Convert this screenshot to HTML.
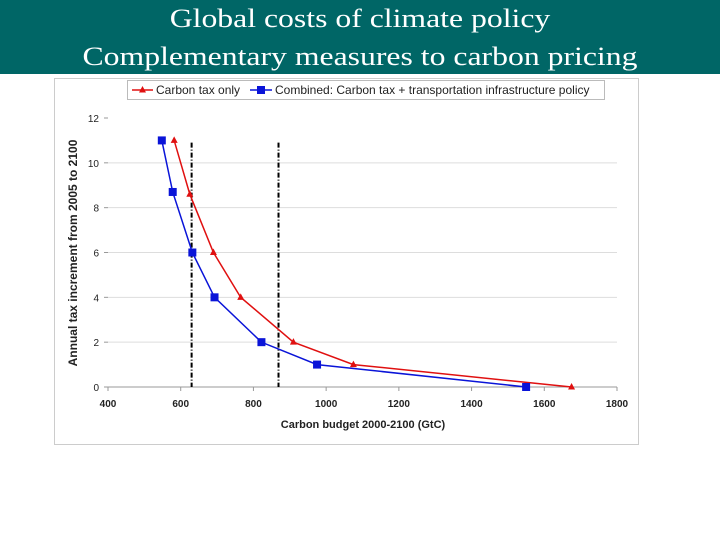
<!DOCTYPE html>
<html><head><meta charset="utf-8"><style>
body{margin:0;width:720px;height:540px;background:#fff;overflow:hidden;position:relative}
#title{position:absolute;left:0;top:0;width:720px;height:74px;background:#006666;color:#fff;font-family:"Liberation Serif",serif;font-size:26px;line-height:38px;text-align:center}
#title div{transform:scaleX(1.22);transform-origin:360px 0}
svg{position:absolute;left:0;top:0}
</style></head><body>
<div id="title"><div>Global costs of climate policy</div><div>Complementary measures to carbon pricing</div></div>
<svg id="chart" width="720" height="540" font-family="Liberation Sans, sans-serif"></svg>
<script>
const yTicks=[0,2,4,6,8,10,12];
const xTicks=[400,600,800,1000,1200,1400,1600,1800];
const redX=[582,625,690,765,910,1075,1675];
const redY=[11,8.6,6,4,2,1,0];
const blueX=[548,578,632,693,822,975,1550];
const blueY=[11,8.7,6,4,2,1,0];
const refLines=[630,869];
const svg=document.getElementById('chart');
const NS='http://www.w3.org/2000/svg';
const X=v=>108+(v-400)*509/1400;
const Y=v=>387-v*269/12;
function el(t,a,p){const e=document.createElementNS(NS,t);for(const k in a)e.setAttribute(k,a[k]);(p||svg).appendChild(e);return e;}
const frame=el('rect',{x:54.5,y:78.5,width:584,height:366,fill:'#fff',stroke:'#ccc'});


yTicks.forEach(t=>{
 if(t>0&&t<12){const g=el('line',{x1:108,x2:617,y1:Y(t),y2:Y(t),stroke:'#ddd'});
 
 }
 el('line',{x1:104,x2:108,y1:Y(t),y2:Y(t),stroke:'#999'});
 const tx=el('text',{x:99,y:Y(t)+4,'font-size':10,'text-anchor':'end',fill:'#222'});tx.textContent=t;
 
 
});
const ax=el('line',{x1:108,x2:617,y1:387,y2:387,stroke:'#999'});


xTicks.forEach(t=>{
 el('line',{x1:X(t),x2:X(t),y1:387,y2:391,stroke:'#999'});
 const tx=el('text',{x:X(t),y:407,'font-size':10,'font-weight':'bold','text-anchor':'middle',fill:'#222'});tx.textContent=t;
 
 
});
refLines.forEach(v=>{
 const l=el('line',{x1:X(v),x2:X(v),y1:Y(10.9),y2:387,stroke:'#000','stroke-width':2,'stroke-dasharray':'5,2,1,2'});
 
 
});
function series(xs,ys,col,name,marker){
 const p=el('polyline',{points:xs.map((x,i)=>X(x)+','+Y(ys[i])).join(' '),fill:'none',stroke:col,'stroke-width':1.5});
 
 
 xs.forEach((x,i)=>{
  let m;
  if(marker==='sq')m=el('rect',{x:X(x)-4,y:Y(ys[i])-4,width:8,height:8,fill:col});
  else m=el('polygon',{points:`${X(x)},${Y(ys[i])-4} ${X(x)-3.5},${Y(ys[i])+2.5} ${X(x)+3.5},${Y(ys[i])+2.5}`,fill:col});
  
  
 });
}
series(redX,redY,'#e01010','carbon-tax-only','tri');
series(blueX,blueY,'#0a14d8','combined','sq');
const yl=el('text',{x:0,y:0,'font-size':12,'font-weight':'bold','text-anchor':'middle',fill:'#222',transform:'translate(77,253) rotate(-90)'});
yl.textContent='Annual tax increment from 2005 to 2100';


const xl=el('text',{x:363,y:428,'font-size':11,'font-weight':'bold','text-anchor':'middle',fill:'#222'});
xl.textContent='Carbon budget 2000-2100 (GtC)';


const lg=el('g',{});


el('rect',{x:127.5,y:80.5,width:477,height:19,fill:'#fff',stroke:'#bbb'},lg);
el('line',{x1:132,x2:153,y1:90,y2:90,stroke:'#e01010','stroke-width':1.5},lg);
el('polygon',{points:'142.5,86 139,92.5 146,92.5',fill:'#e01010'},lg);
const t1=el('text',{x:156,y:94,'font-size':12,fill:'#222'},lg);t1.textContent='Carbon tax only';
el('line',{x1:250,x2:272,y1:90,y2:90,stroke:'#0a14d8','stroke-width':1.5},lg);
el('rect',{x:257,y:86,width:8,height:8,fill:'#0a14d8'},lg);
const t2=el('text',{x:275,y:94,'font-size':12,fill:'#222'},lg);t2.textContent='Combined: Carbon tax + transportation infrastructure policy';
</script>
</body></html>
